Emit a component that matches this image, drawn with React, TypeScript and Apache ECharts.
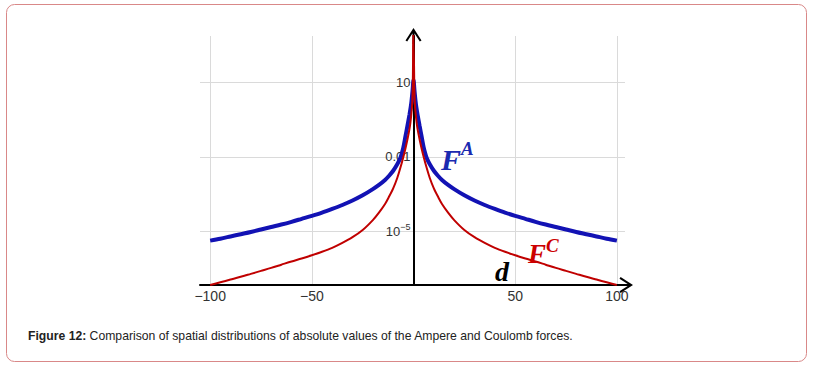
import React, { useEffect, useRef } from "react";
import * as echarts from "echarts";

// distance d (horizontal axis)
const ampereD = [
  -100, -95, -90, -85, -80, -75, -70, -65, -60, -55, -50, -45, -40, -35, -30, -25, -20, -17, -14, -12, -10, -8, -6.5, -6, -5, -4, -3, -2, -1.4, -1, -0.5,
  0,
  0.5, 1, 1.4, 2, 3, 4, 5, 6, 6.5, 8, 10, 12, 14, 17, 20, 25, 30, 35, 40, 45, 50, 55, 60, 65, 70, 75, 80, 85, 90, 95, 100,
];
// log10 |F^A|
const ampereLog = [
  -5.38, -5.3, -5.21, -5.12, -5.03, -4.93, -4.83, -4.73, -4.62, -4.5, -4.38, -4.25, -4.1, -3.94, -3.76, -3.55, -3.3, -3.13, -2.93, -2.76, -2.56, -2.3, -2.05, -1.93, -1.62, -1.18, -0.75, -0.3, 0.0, 0.25, 0.65,
  1.1,
  0.65, 0.25, 0.0, -0.3, -0.75, -1.18, -1.62, -1.93, -2.05, -2.3, -2.56, -2.76, -2.93, -3.13, -3.3, -3.55, -3.76, -3.94, -4.1, -4.25, -4.38, -4.5, -4.62, -4.73, -4.83, -4.93, -5.03, -5.12, -5.21, -5.3, -5.38,
];

const coulombD = [
  -100, -95, -90, -85, -80, -75, -70, -65, -60, -55, -50, -45, -40, -35, -30, -25, -20, -17, -14, -12, -10, -8, -6.5, -5, -4, -3, -2, -1.5, -1, -0.7, -0.5, -0.35, -0.25, -0.15,
  0.15, 0.25, 0.35, 0.5, 0.7, 1, 1.5, 2, 3, 4, 5, 6.5, 8, 10, 12, 14, 17, 20, 25, 30, 35, 40, 45, 50, 55, 60, 65, 70, 75, 80, 85, 90, 95, 100,
];
// log10 |F^C|
const coulombLog = [
  -7.17, -7.06, -6.95, -6.84, -6.72, -6.6, -6.48, -6.35, -6.22, -6.1, -5.97, -5.83, -5.67, -5.47, -5.24, -4.95, -4.55, -4.25, -3.9, -3.6, -3.27, -2.85, -2.45, -2.0, -1.67, -1.3, -0.88, -0.6, -0.2, 0.1, 0.5, 1.0, 1.7, 3.0,
  3.0, 1.7, 1.0, 0.5, 0.1, -0.2, -0.6, -0.88, -1.3, -1.67, -2.0, -2.45, -2.85, -3.27, -3.6, -3.9, -4.25, -4.55, -4.95, -5.24, -5.47, -5.67, -5.83, -5.97, -6.1, -6.22, -6.35, -6.48, -6.6, -6.72, -6.84, -6.95, -7.06, -7.17,
];

const xTicks = [-100, -50, 0, 50, 100];
const yTicks = [-5, -2, 1]; // log10 positions of the labelled grid lines
const yTickLabels: Record<string, string> = { "-5": "10{sup|−5}", "-2": "0.01", "1": "10" };

const caption = "Comparison of spatial distributions of absolute values of the Ampere and Coulomb forces.";

const arrowPath =
  "path://M8,0 L16,12.4 L14.3,13.5 L8,3.8 L1.7,13.5 L0,12.4 Z M7,2 L9,2 L9,16 L7,16 Z";

export default function App() {
  const ref = useRef<HTMLDivElement>(null);
  useEffect(() => {
    if (!ref.current) return;
    const chart = echarts.init(ref.current, undefined, { renderer: "svg" });
    const serif = '"Liberation Serif", "Times New Roman", serif';
    const sans = '"Liberation Sans", Arial, sans-serif';
    chart.setOption({
      animation: false,
      backgroundColor: "#ffffff",
      grid: { left: 200, right: 194, top: 36, bottom: 91, containLabel: false },
      xAxis: {
        type: "value",
        min: -105,
        max: 104,
        axisLine: {
          onZero: false,
          lineStyle: { color: "#000", width: 2 },
          symbol: ["none", arrowPath],
          symbolSize: [16, 16],
        },
        axisTick: { show: false, customValues: xTicks },
        axisLabel: {
          customValues: xTicks,
          margin: 4,
          fontSize: 14,
          color: "#333",
          fontFamily: sans,
          formatter: (v: number) => (v === 0 ? "" : String(v).replace("-", "−")),
        },
        splitLine: { show: true, lineStyle: { color: "#dadada", width: 1 } },
      },
      yAxis: {
        type: "value",
        min: -7.17,
        max: 2.88,
        position: "left",
        offset: -213.5,
        axisLine: {
          onZero: false,
          lineStyle: { color: "#000", width: 2 },
          symbol: ["none", arrowPath],
          symbolSize: [16, 16],
        },
        axisTick: { show: false, customValues: yTicks },
        axisLabel: {
          customValues: yTicks,
          margin: 3,
          fontSize: 13,
          color: "#333",
          fontFamily: sans,
          formatter: (v: number) => yTickLabels[String(v)] ?? "",
          rich: {
            sup: { fontSize: 9, color: "#333", fontFamily: sans, verticalAlign: "top", padding: [0, 0, 8, 0] },
          },
        },
        splitLine: { show: true, lineStyle: { color: "#dadada", width: 1 } },
      },
      series: [
        {
          name: "FA",
          type: "line",
          data: ampereD.map((d, i) => [d, ampereLog[i]]),
          showSymbol: false,
          smooth: 0.3,
          lineStyle: { color: "#1212b4", width: 4 },
          z: 3,
        },
        {
          name: "FC",
          type: "line",
          data: coulombD.map((d, i) => [d, coulombLog[i]]),
          showSymbol: false,
          smooth: 0.3,
          lineStyle: { color: "#c00000", width: 2 },
          z: 4,
        },
      ],
      graphic: [
        {
          type: "rect",
          shape: { x: 6.5, y: 4.5, width: 800, height: 357, r: 8 },
          style: { fill: "none", stroke: "#d98888", lineWidth: 1 },
          z: -10,
        },
        {
          type: "text",
          x: 441,
          y: 159,
          style: { text: "F", font: `italic bold 30px ${serif}`, fill: "#1a2ab0", align: "left", verticalAlign: "middle", textAlign: "left", textVerticalAlign: "middle" },
          z: 20,
        },
        {
          type: "text",
          x: 461,
          y: 148.5,
          style: { text: "A", font: `italic bold 19px ${serif}`, fill: "#1a2ab0", align: "left", verticalAlign: "middle", textAlign: "left", textVerticalAlign: "middle" },
          z: 20,
        },
        {
          type: "text",
          x: 528,
          y: 254,
          style: { text: "F", font: `italic bold 27px ${serif}`, fill: "#cc0000", align: "left", verticalAlign: "middle", textAlign: "left", textVerticalAlign: "middle" },
          z: 20,
        },
        {
          type: "text",
          x: 546,
          y: 245,
          style: { text: "C", font: `italic bold 19px ${serif}`, fill: "#cc0000", align: "left", verticalAlign: "middle", textAlign: "left", textVerticalAlign: "middle" },
          z: 20,
        },
        {
          type: "text",
          x: 495,
          y: 271.5,
          style: { text: "d", font: `italic bold 28px ${serif}`, fill: "#000", align: "left", verticalAlign: "middle", textAlign: "left", textVerticalAlign: "middle" },
          z: 20,
        },
        {
          type: "text",
          x: 28,
          y: 336,
          style: {
            text: "{b|Figure 12:} " + caption,
            font: `12.2px ${sans}`,
            fill: "#222",
            align: "left",
            verticalAlign: "middle",
            textAlign: "left",
            textVerticalAlign: "middle",
            rich: {
              b: { fontWeight: "bold", fontSize: 12.2, fontFamily: sans, fill: "#222", color: "#222" },
            },
          },
          z: 20,
        },
      ],
    });
    return () => chart.dispose();
  }, []);
  return (
    <div
      ref={ref}
      style={{ position: "absolute", left: 0, top: 0, width: 819, height: 376 }}
    />
  );
}
